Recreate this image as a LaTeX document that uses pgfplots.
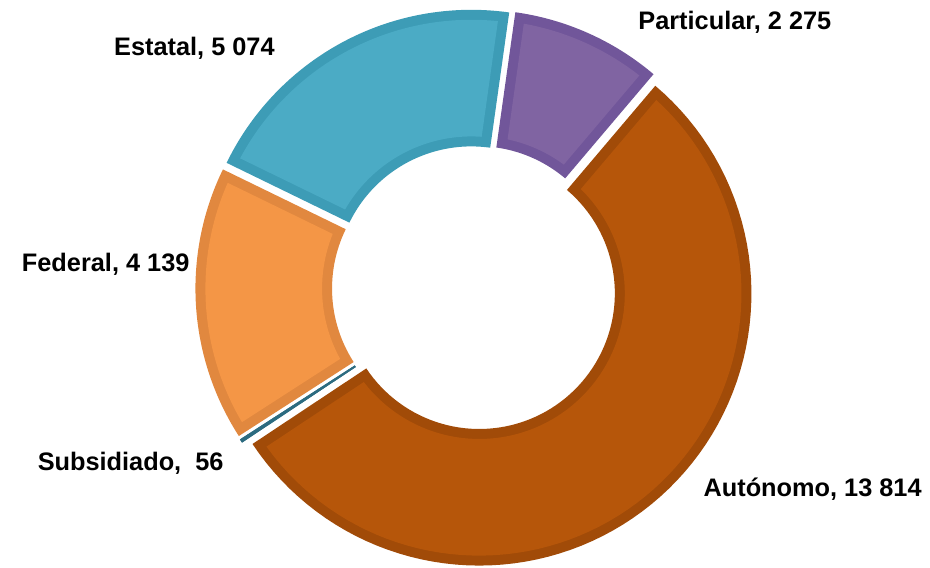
\documentclass[border=0pt]{standalone}
\usepackage{pgfplots}
\usepackage{pgfplotstable}
\pgfplotsset{compat=1.18}
\usepackage{fontspec}
\setmainfont{Liberation Sans}

\definecolor{cPart}{HTML}{8064A2}  \definecolor{bPart}{HTML}{71569A}
\definecolor{cAuto}{HTML}{B6560A}  \definecolor{bAuto}{HTML}{A14B08}
\definecolor{cSubs}{HTML}{2C6B80}
\definecolor{cFede}{HTML}{F49646}  \definecolor{bFede}{HTML}{E1883F}
\definecolor{cEsta}{HTML}{4BABC5}  \definecolor{bEsta}{HTML}{3D9CB6}

% values, in clockwise order from the top
\pgfplotstableread{
name value
Particular 2275
Autonomo 13814
Subsidiado 56
Federal 4139
Estatal 5074
}\donutdata

% geometry in pixel units of the reference
\def\CX{476}\def\CY{280}\def\D{7}
\def\Rout{273}\def\Rin{136}\def\startang{8}

% ring piece: outer arc #1->#2 radius #5, inner arc #4->#3 radius #6
\newcommand{\ringpath}[7]{%
  \pgfmathsetmacro\oa{#1}\pgfmathsetmacro\ob{#2}%
  \pgfmathsetmacro\ia{#3}\pgfmathsetmacro\ib{#4}%
  \pgfmathsetmacro\ro{#5}\pgfmathsetmacro\ri{#6}%
  \addplot[draw=none, fill=#7, domain=0:2, samples=161, variable=\t]
    ({\cx+((\t<1.0125) ? (\ro*cos(\oa+(\ob-\oa)*min(\t,1))) : (\ri*cos(\ib-(\ib-\ia)*max(\t-1.025,0)/0.975)))},
     {\cy+((\t<1.0125) ? (\ro*sin(\oa+(\ob-\oa)*min(\t,1))) : (\ri*sin(\ib-(\ib-\ia)*max(\t-1.025,0)/0.975)))}) -- cycle;
}
% slice from clockwise angle #1 to #2 (0 = top), fill #3, border #4, border width #5
\newcommand{\slice}[5]{%
  \pgfmathsetmacro\pa{90-(#2)}\pgfmathsetmacro\pb{90-(#1)}%
  \pgfmathsetmacro\bis{(\pa+\pb)/2}%
  \pgfmathsetmacro\cx{\CX+\D*cos(\bis)}\pgfmathsetmacro\cy{\CY+\D*sin(\bis)}%
  \ringpath{\pa}{\pb}{\pa}{\pb}{\Rout}{\Rin}{#4}%
  \pgfmathsetmacro\ao{asin(#5/(\Rout-#5))}\pgfmathsetmacro\ai{asin(#5/(\Rin+#5))}%
  \ringpath{\pa+\ao}{\pb-\ao}{\pa+\ai}{\pb-\ai}{\Rout-#5}{\Rin+#5}{#3}%
}
\tikzset{lbl/.style={font=\fontsize{10.1}{12}\selectfont\bfseries}}

\begin{document}
\begin{tikzpicture}
\pgfplotstablegetelem{0}{value}\of\donutdata \edef\vPart{\pgfplotsretval}
\pgfplotstablegetelem{1}{value}\of\donutdata \edef\vAuto{\pgfplotsretval}
\pgfplotstablegetelem{2}{value}\of\donutdata \edef\vSubs{\pgfplotsretval}
\pgfplotstablegetelem{3}{value}\of\donutdata \edef\vFede{\pgfplotsretval}
\pgfplotstablegetelem{4}{value}\of\donutdata \edef\vEsta{\pgfplotsretval}
% work in thousands to stay inside TeX's dimension range
\pgfmathsetmacro\tot{\vPart/1000+\vAuto/1000+\vSubs/1000+\vFede/1000+\vEsta/1000}
\pgfmathsetmacro\aA{\startang}
\pgfmathsetmacro\aB{\aA+360*(\vPart/1000)/\tot}
\pgfmathsetmacro\aC{\aB+360*(\vAuto/1000)/\tot}
\pgfmathsetmacro\aD{\aC+360*(\vSubs/1000)/\tot}
\pgfmathsetmacro\aE{\aD+360*(\vFede/1000)/\tot}
\pgfmathsetmacro\aF{\aE+360*(\vEsta/1000)/\tot}
\begin{axis}[
  scale only axis, width=13cm, height=7.954cm,
  xmin=0, xmax=930, ymin=0, ymax=569,
  hide axis, clip=false,
]
\addplot[draw=none] coordinates {(0,0) (930,569)};
\slice{\aA}{\aB}{cPart}{bPart}{10}
\slice{\aB}{\aC}{cAuto}{bAuto}{10}
\slice{\aC}{\aD}{cSubs}{cSubs}{0}
\slice{\aD}{\aE}{cFede}{bFede}{10}
\slice{\aE}{\aF}{cEsta}{bEsta}{10}

\node[lbl] at (axis cs:195,521) {\textbf{Estatal, 5 074}};
\node[lbl] at (axis cs:737,547) {\textbf{Particular, 2 275}};
\node[lbl] at (axis cs:106,304) {\textbf{Federal, 4 139}};
\node[lbl] at (axis cs:131,104) {\textbf{Subsidiado,~~56}};
\node[lbl] at (axis cs:815,78) {\textbf{Autónomo, 13 814}};
\end{axis}
\end{tikzpicture}
\end{document}
